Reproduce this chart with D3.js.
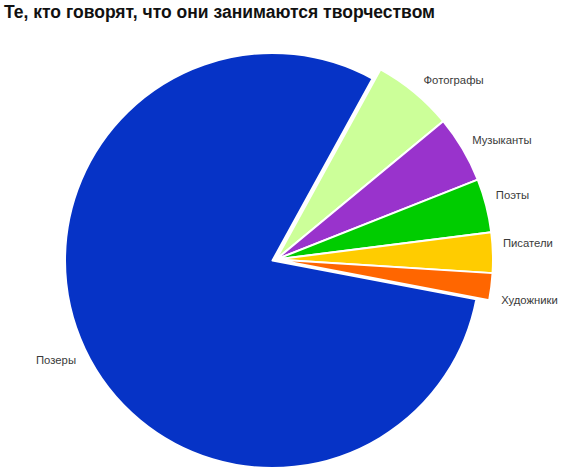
<!DOCTYPE html>
<html><head><meta charset="utf-8">
<script src="https://cdn.jsdelivr.net/npm/d3@7"></script>
<style>body{margin:0;background:#fff}svg{display:block}</style>
</head><body>
<script>
const title = "Те, кто говорят, что они занимаются творчеством";
const categories = ["Фотографы","Музыканты","Поэты","Писатели","Художники","Позеры"];
const values = [6,5,4,3,2,80];
const colors = ["#ccff99","#9933cc","#00cc00","#ffcc00","#ff6600","#0633c6"];

const W=564,H=476;
const svg=d3.select("body").append("svg").attr("width",W).attr("height",H);
svg.append("text").attr("x",4).attr("y",18).attr("font-family","Liberation Sans, Arial, sans-serif")
  .attr("font-weight","bold").attr("font-size",17.5).attr("fill","#111").text(title);

const start=28.8*Math.PI/180;
const pie=d3.pie().sort(null).startAngle(start).endAngle(start+2*Math.PI);
const arcs=pie(values);
const bigC=[272.5,260.5], bigR=207.5;
const smallC=[276,259.5], smallR=217;
const g=svg.append("g");
arcs.forEach((a,i)=>{
  const big = i===values.length-1;
  const c = big?bigC:smallC, r = big?bigR:smallR;
  g.append("path").attr("transform",`translate(${c[0]},${c[1]})`)
   .attr("d",d3.arc().innerRadius(0).outerRadius(r)(a))
   .attr("fill",colors[i]).attr("stroke","#fff").attr("stroke-width",2).attr("stroke-linejoin","round");
});
// labels
const labR=[233,236,228,228,228,226];
const nudgeY=[0,0,-8,-10,11,0];
const nudgeX=[0,-6,0,0,0,0];
const center=[275,260];
arcs.forEach((a,i)=>{
  const m=(a.startAngle+a.endAngle)/2;
  let x=center[0]+labR[i]*Math.sin(m)+nudgeX[i], y=center[1]-labR[i]*Math.cos(m)+nudgeY[i];
  if(i===values.length-1){ x=36; y=360.5; }
  svg.append("text").attr("x",x).attr("y",y).attr("dy","0.35em")
    .attr("font-family","Liberation Sans, Arial, sans-serif").attr("font-size",11.3)
    .attr("fill","#3a3a3a").attr("text-anchor","start").text(categories[i]);
});
</script>
</body></html>
